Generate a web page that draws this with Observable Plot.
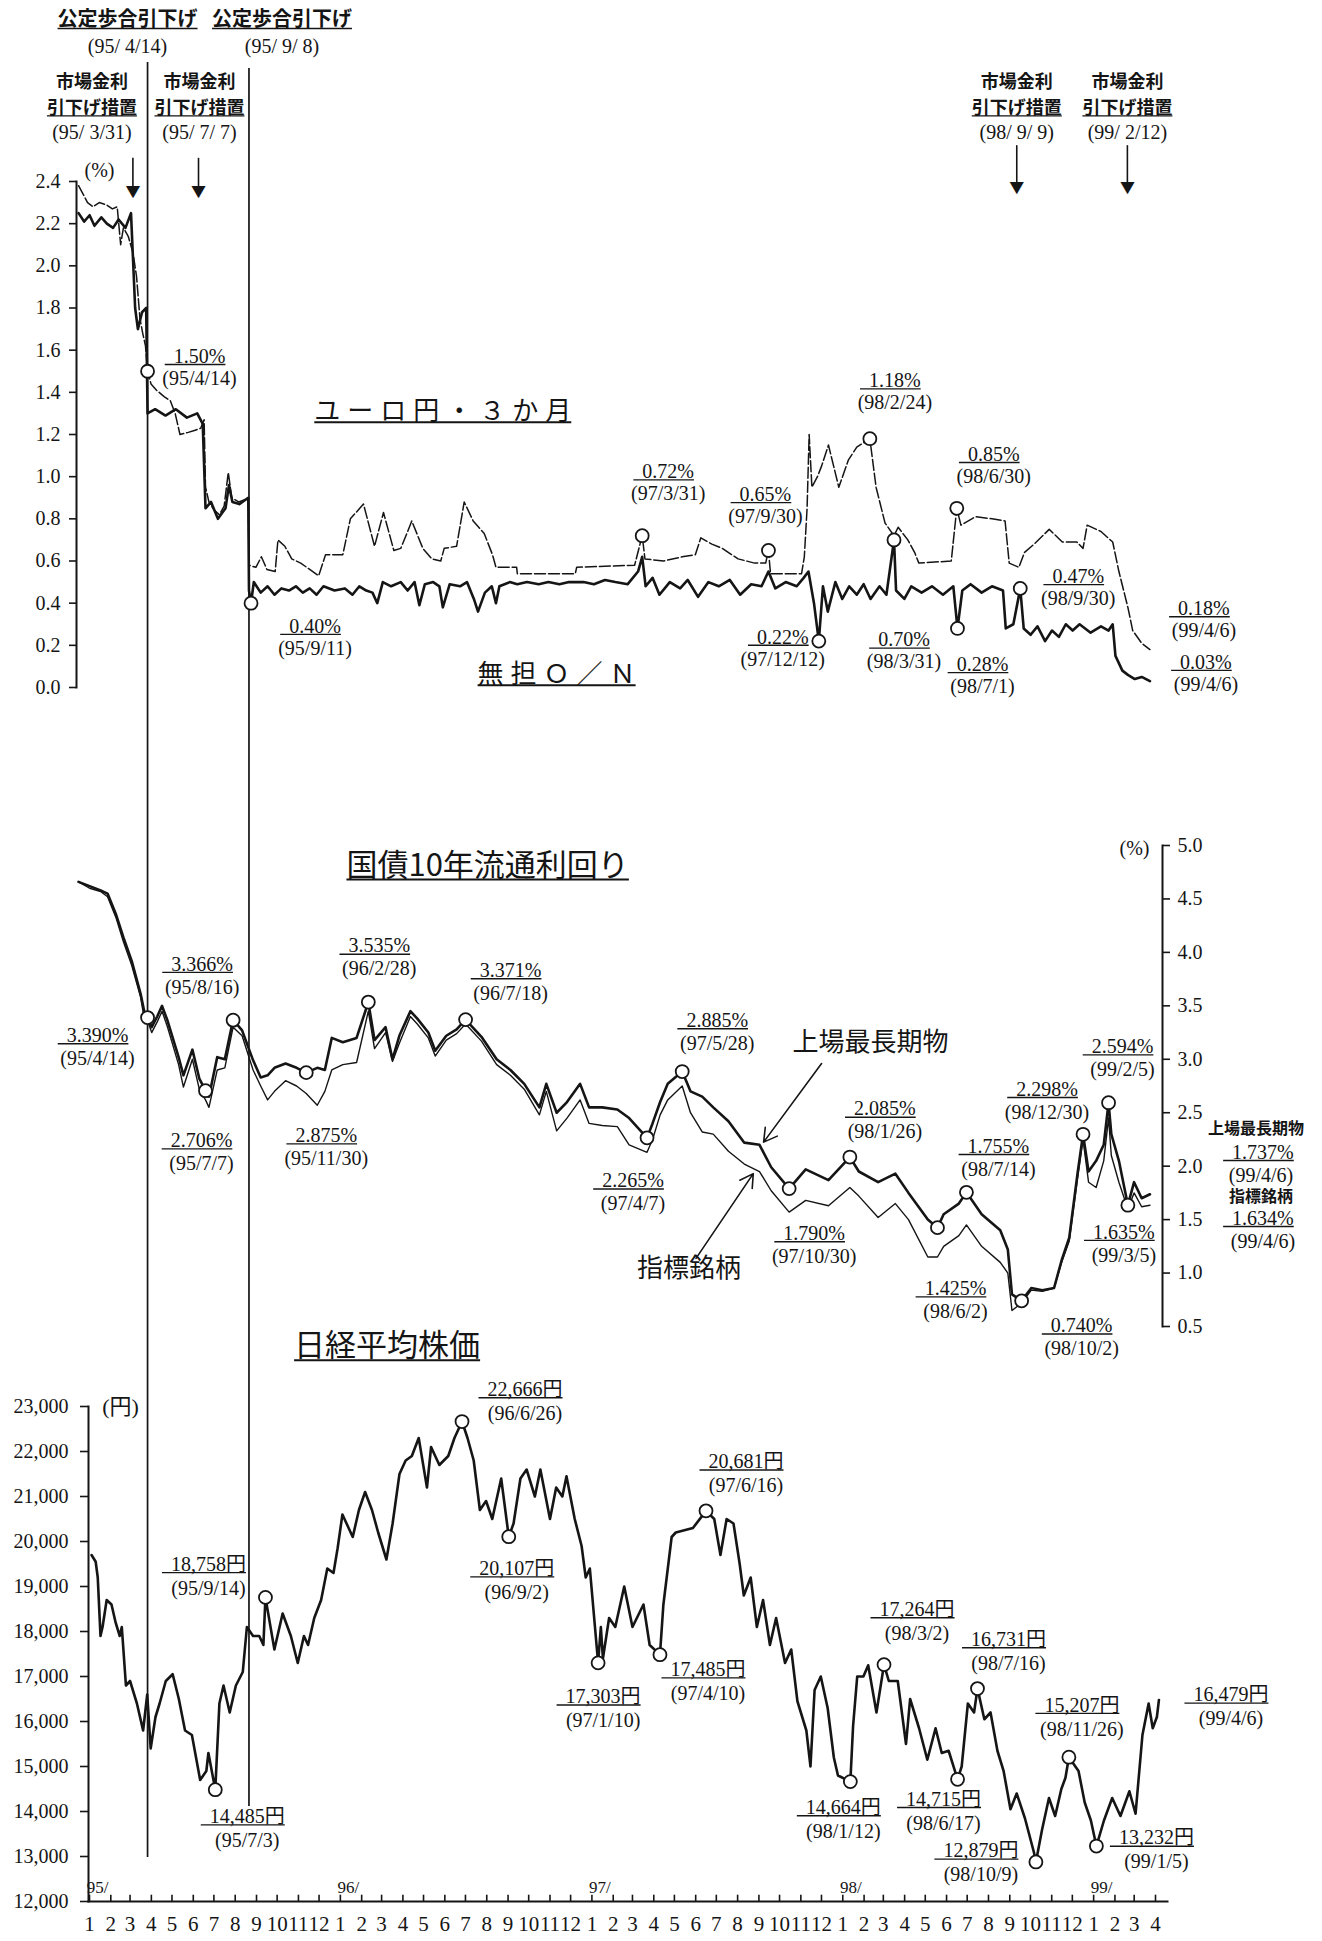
<!DOCTYPE html>
<html><head><meta charset="utf-8">
<script src="https://cdn.jsdelivr.net/npm/d3@7"></script>
<script src="https://cdn.jsdelivr.net/npm/@observablehq/plot@0.6"></script>
<style>
html,body{margin:0;padding:0;background:#fff;}
#chart{position:relative;width:1322px;height:1941px;overflow:hidden;background:#fff;}
</style></head><body><div id="chart"></div>
<script>
(function(){
// ---------------- DATA ----------------
const topTicks = [0.0,0.2,0.4,0.6,0.8,1.0,1.2,1.4,1.6,1.8,2.0,2.2,2.4];
const midTicks = [0.5,1.0,1.5,2.0,2.5,3.0,3.5,4.0,4.5,5.0];
const nikkeiTicks = [12000,13000,14000,15000,16000,17000,18000,19000,20000,21000,22000,23000];
const yearLabels = ["95/","96/","97/","98/","99/"];

// ユーロ円・3か月 (%)
const euroYen = [["1995-01-04",2.38],["1995-01-09",2.35],["1995-01-17",2.30],["1995-01-25",2.28],["1995-02-03",2.30],["1995-02-13",2.29],["1995-02-22",2.27],["1995-03-01",2.28],["1995-03-06",2.10],["1995-03-10",2.18],["1995-03-17",2.14],["1995-03-24",2.06],["1995-03-29",1.95],["1995-04-03",1.75],["1995-04-07",1.68],["1995-04-11",1.62],["1995-04-14",1.50],["1995-04-19",1.44],["1995-04-27",1.41],["1995-05-08",1.38],["1995-05-17",1.36],["1995-05-24",1.30],["1995-05-31",1.20],["1995-06-12",1.21],["1995-06-22",1.22],["1995-06-30",1.23],["1995-07-05",1.27],["1995-07-07",0.95],["1995-07-12",0.88],["1995-07-20",0.84],["1995-07-27",0.82],["1995-08-03",0.86],["1995-08-09",1.02],["1995-08-14",0.90],["1995-08-24",0.88],["1995-09-01",0.89],["1995-09-07",0.89],["1995-09-08",0.58],["1995-09-18",0.57],["1995-09-26",0.62],["1995-10-04",0.56],["1995-10-16",0.55],["1995-10-20",0.70],["1995-10-30",0.67],["1995-11-09",0.61],["1995-11-22",0.59],["1995-12-05",0.56],["1995-12-18",0.53],["1995-12-28",0.63],["1996-01-22",0.63],["1996-02-02",0.80],["1996-02-21",0.87],["1996-03-08",0.67],["1996-03-21",0.83],["1996-04-05",0.65],["1996-04-15",0.66],["1996-04-25",0.74],["1996-05-01",0.79],["1996-05-17",0.66],["1996-05-30",0.61],["1996-06-12",0.60],["1996-06-17",0.66],["1996-07-05",0.67],["1996-07-16",0.88],["1996-07-29",0.79],["1996-08-14",0.73],["1996-08-26",0.63],["1996-08-31",0.57],["1996-09-30",0.57],["1996-10-01",0.54],["1996-12-24",0.54],["1996-12-26",0.57],["1997-03-20",0.58],["1997-03-31",0.72],["1997-04-04",0.61],["1997-05-01",0.60],["1997-05-28",0.62],["1997-06-16",0.63],["1997-06-24",0.71],["1997-07-10",0.68],["1997-07-25",0.66],["1997-08-17",0.61],["1997-09-10",0.59],["1997-09-26",0.59],["1997-09-30",0.65],["1997-10-03",0.54],["1997-11-17",0.54],["1997-11-21",0.62],["1997-11-25",0.85],["1997-11-28",1.20],["1997-12-02",0.95],["1997-12-10",1.00],["1997-12-16",1.05],["1997-12-26",1.15],["1998-01-10",0.95],["1998-01-24",1.08],["1998-02-05",1.14],["1998-02-24",1.18],["1998-03-05",0.95],["1998-03-18",0.78],["1998-03-31",0.72],["1998-04-06",0.76],["1998-04-20",0.70],["1998-04-30",0.64],["1998-05-06",0.59],["1998-06-22",0.60],["1998-06-30",0.85],["1998-07-06",0.77],["1998-07-27",0.81],["1998-08-20",0.80],["1998-09-08",0.79],["1998-09-14",0.59],["1998-09-28",0.57],["1998-10-06",0.64],["1998-10-20",0.68],["1998-11-11",0.75],["1998-11-30",0.69],["1998-12-21",0.69],["1998-12-30",0.66],["1999-01-05",0.77],["1999-01-25",0.74],["1999-02-11",0.69],["1999-02-20",0.55],["1999-03-05",0.38],["1999-03-12",0.27],["1999-03-25",0.21],["1999-04-06",0.18]];

// 無担O/N (%)
const overnight = [["1995-01-04",2.25],["1995-01-12",2.21],["1995-01-20",2.24],["1995-01-27",2.19],["1995-02-06",2.23],["1995-02-14",2.20],["1995-02-23",2.18],["1995-03-03",2.22],["1995-03-13",2.18],["1995-03-21",2.25],["1995-03-27",1.80],["1995-03-31",1.70],["1995-04-06",1.78],["1995-04-12",1.80],["1995-04-14",1.30],["1995-04-25",1.32],["1995-05-10",1.29],["1995-05-25",1.32],["1995-06-10",1.28],["1995-06-25",1.30],["1995-07-03",1.25],["1995-07-07",0.85],["1995-07-15",0.88],["1995-07-25",0.80],["1995-08-05",0.85],["1995-08-10",0.96],["1995-08-15",0.88],["1995-08-25",0.87],["1995-09-07",0.90],["1995-09-08",0.46],["1995-09-11",0.40],["1995-09-15",0.50],["1995-09-25",0.45],["1995-10-05",0.48],["1995-10-15",0.44],["1995-10-25",0.47],["1995-11-05",0.46],["1995-11-15",0.48],["1995-11-25",0.45],["1995-12-05",0.47],["1995-12-15",0.44],["1995-12-25",0.48],["1996-01-10",0.46],["1996-01-25",0.47],["1996-02-05",0.44],["1996-02-15",0.48],["1996-02-25",0.46],["1996-03-05",0.45],["1996-03-12",0.40],["1996-03-20",0.50],["1996-04-01",0.48],["1996-04-15",0.50],["1996-04-25",0.46],["1996-05-05",0.50],["1996-05-12",0.39],["1996-05-20",0.49],["1996-06-01",0.50],["1996-06-10",0.48],["1996-06-15",0.38],["1996-06-25",0.49],["1996-07-10",0.48],["1996-07-20",0.50],["1996-07-30",0.42],["1996-08-05",0.36],["1996-08-15",0.45],["1996-08-25",0.48],["1996-08-31",0.40],["1996-09-05",0.48],["1996-09-20",0.50],["1996-10-01",0.49],["1996-10-15",0.50],["1996-11-01",0.49],["1996-11-15",0.50],["1996-12-01",0.49],["1996-12-15",0.50],["1997-01-05",0.50],["1997-01-20",0.49],["1997-02-05",0.51],["1997-02-20",0.50],["1997-03-10",0.49],["1997-03-25",0.55],["1997-03-31",0.62],["1997-04-05",0.48],["1997-04-15",0.52],["1997-04-25",0.44],["1997-05-10",0.50],["1997-05-25",0.47],["1997-06-05",0.51],["1997-06-20",0.43],["1997-07-05",0.50],["1997-07-20",0.48],["1997-08-05",0.51],["1997-08-20",0.44],["1997-09-05",0.49],["1997-09-20",0.48],["1997-09-30",0.55],["1997-10-10",0.47],["1997-10-25",0.50],["1997-11-10",0.48],["1997-11-20",0.52],["1997-11-27",0.55],["1997-12-05",0.40],["1997-12-12",0.22],["1997-12-18",0.48],["1997-12-25",0.36],["1998-01-05",0.50],["1998-01-15",0.42],["1998-01-25",0.48],["1998-02-05",0.44],["1998-02-15",0.49],["1998-02-25",0.42],["1998-03-10",0.48],["1998-03-20",0.44],["1998-03-31",0.70],["1998-04-03",0.46],["1998-04-15",0.42],["1998-04-25",0.48],["1998-05-10",0.45],["1998-05-25",0.48],["1998-06-10",0.44],["1998-06-25",0.48],["1998-07-01",0.28],["1998-07-08",0.46],["1998-07-20",0.49],["1998-08-05",0.45],["1998-08-20",0.48],["1998-09-05",0.46],["1998-09-09",0.28],["1998-09-20",0.30],["1998-09-30",0.47],["1998-10-05",0.28],["1998-10-15",0.25],["1998-10-25",0.29],["1998-11-05",0.22],["1998-11-15",0.27],["1998-11-25",0.24],["1998-12-05",0.30],["1998-12-15",0.27],["1998-12-25",0.30],["1999-01-10",0.26],["1999-01-25",0.29],["1999-02-05",0.27],["1999-02-11",0.30],["1999-02-15",0.15],["1999-02-25",0.08],["1999-03-05",0.06],["1999-03-15",0.04],["1999-03-25",0.05],["1999-04-06",0.03]];

// 国債10年 上場最長期物 (%)
const jgbLongest = [["1995-01-04",4.66],["1995-01-20",4.62],["1995-02-05",4.58],["1995-02-15",4.55],["1995-02-27",4.36],["1995-03-10",4.14],["1995-03-22",3.92],["1995-04-04",3.61],["1995-04-10",3.42],["1995-04-14",3.39],["1995-04-20",3.30],["1995-04-28",3.40],["1995-05-05",3.50],["1995-05-13",3.36],["1995-05-29",3.02],["1995-06-05",2.85],["1995-06-18",3.09],["1995-06-28",2.82],["1995-07-07",2.71],["1995-07-12",2.65],["1995-07-24",3.02],["1995-08-04",3.00],["1995-08-16",3.37],["1995-08-29",3.27],["1995-09-14",2.99],["1995-09-25",2.83],["1995-10-05",2.85],["1995-10-15",2.92],["1995-10-31",2.96],["1995-11-16",2.92],["1995-11-30",2.875],["1995-12-16",2.92],["1995-12-27",2.90],["1996-01-06",3.20],["1996-01-22",3.16],["1996-02-11",3.20],["1996-02-28",3.535],["1996-03-08",3.18],["1996-03-24",3.30],["1996-04-03",3.00],["1996-04-13",3.22],["1996-04-29",3.45],["1996-05-09",3.38],["1996-05-25",3.25],["1996-06-04",3.08],["1996-06-20",3.22],["1996-07-05",3.28],["1996-07-18",3.371],["1996-08-10",3.21],["1996-09-01",3.00],["1996-09-21",2.90],["1996-10-11",2.77],["1996-11-02",2.55],["1996-11-12",2.77],["1996-11-27",2.50],["1996-12-12",2.60],["1996-12-31",2.77],["1997-01-13",2.55],["1997-02-01",2.55],["1997-02-23",2.53],["1997-03-12",2.45],["1997-04-07",2.265],["1997-04-15",2.40],["1997-04-26",2.60],["1997-05-07",2.77],["1997-05-28",2.885],["1997-06-09",2.70],["1997-06-26",2.65],["1997-07-12",2.55],["1997-08-03",2.42],["1997-08-26",2.22],["1997-09-17",2.20],["1997-10-04",1.99],["1997-10-30",1.790],["1997-11-23",1.97],["1997-12-26",1.87],["1998-01-26",2.085],["1998-02-08",1.95],["1998-03-08",1.85],["1998-04-02",1.93],["1998-04-21",1.75],["1998-05-19",1.50],["1998-06-02",1.425],["1998-06-11",1.55],["1998-07-03",1.65],["1998-07-14",1.755],["1998-08-05",1.55],["1998-09-01",1.40],["1998-09-12",1.22],["1998-09-18",0.80],["1998-10-02",0.740],["1998-10-16",0.86],["1998-11-01",0.84],["1998-11-18",0.86],["1998-11-29",1.12],["1998-12-10",1.33],["1998-12-22",1.93],["1998-12-30",2.298],["1999-01-07",1.95],["1999-01-18",2.05],["1999-01-29",2.20],["1999-02-05",2.594],["1999-02-09",2.30],["1999-02-20",2.05],["1999-03-05",1.635],["1999-03-14",1.85],["1999-03-25",1.70],["1999-04-06",1.737]];

// 国債10年 指標銘柄 (%)
const jgbBenchmark = [["1995-01-04",4.66],["1995-01-20",4.60],["1995-02-05",4.57],["1995-02-15",4.52],["1995-02-27",4.33],["1995-03-10",4.10],["1995-03-22",3.88],["1995-04-04",3.58],["1995-04-10",3.35],["1995-04-14",3.36],["1995-04-20",3.25],["1995-04-28",3.35],["1995-05-05",3.45],["1995-05-13",3.30],["1995-05-29",2.95],["1995-06-05",2.74],["1995-06-18",3.00],["1995-06-28",2.72],["1995-07-07",2.62],["1995-07-12",2.55],["1995-07-24",2.90],["1995-08-04",2.92],["1995-08-16",3.30],["1995-08-29",3.22],["1995-09-14",2.90],["1995-09-25",2.75],["1995-10-05",2.62],["1995-10-15",2.70],["1995-10-31",2.80],["1995-11-16",2.75],["1995-11-30",2.68],["1995-12-16",2.57],["1995-12-27",2.70],["1996-01-06",2.90],["1996-01-22",2.95],["1996-02-11",2.97],["1996-02-28",3.45],["1996-03-08",3.10],["1996-03-24",3.25],["1996-04-03",2.98],["1996-04-13",3.15],["1996-04-29",3.40],["1996-05-09",3.33],["1996-05-25",3.20],["1996-06-04",3.03],["1996-06-20",3.18],["1996-07-05",3.24],["1996-07-18",3.33],["1996-08-10",3.17],["1996-09-01",2.95],["1996-09-21",2.85],["1996-10-11",2.72],["1996-11-02",2.48],["1996-11-12",2.70],["1996-11-27",2.33],["1996-12-12",2.45],["1996-12-31",2.62],["1997-01-13",2.40],["1997-02-01",2.38],["1997-02-23",2.37],["1997-03-12",2.20],["1997-04-07",2.13],["1997-04-15",2.25],["1997-04-26",2.48],["1997-05-07",2.62],["1997-05-28",2.75],["1997-06-09",2.50],["1997-06-26",2.32],["1997-07-12",2.30],["1997-08-03",2.14],["1997-08-26",2.02],["1997-09-17",1.95],["1997-10-04",1.77],["1997-10-30",1.57],["1997-11-23",1.68],["1997-12-26",1.63],["1998-01-26",1.80],["1998-02-08",1.72],["1998-03-08",1.52],["1998-04-02",1.65],["1998-04-21",1.50],["1998-05-19",1.15],["1998-06-02",1.15],["1998-06-11",1.25],["1998-07-03",1.35],["1998-07-14",1.45],["1998-08-05",1.25],["1998-09-01",1.10],["1998-09-12",1.00],["1998-09-18",0.65],["1998-10-02",0.72],["1998-10-16",0.84],["1998-11-01",0.83],["1998-11-18",0.86],["1998-11-29",1.10],["1998-12-10",1.30],["1998-12-22",1.88],["1998-12-30",2.25],["1999-01-07",1.85],["1999-01-18",1.80],["1999-01-29",2.05],["1999-02-05",2.45],["1999-02-09",2.10],["1999-02-20",1.85],["1999-03-05",1.60],["1999-03-14",1.75],["1999-03-25",1.62],["1999-04-06",1.634]];

// 日経平均株価 (円)
const nikkei = [["1995-01-04",19700],["1995-01-10",19550],["1995-01-13",19200],["1995-01-17",17900],["1995-01-20",18100],["1995-01-26",18700],["1995-02-02",18600],["1995-02-08",18200],["1995-02-14",17900],["1995-02-17",18100],["1995-02-23",16800],["1995-03-01",16900],["1995-03-11",16400],["1995-03-20",15800],["1995-03-26",16600],["1995-03-31",15400],["1995-04-07",16100],["1995-04-13",16400],["1995-04-22",16900],["1995-05-02",17050],["1995-05-11",16500],["1995-05-20",15800],["1995-05-30",15700],["1995-06-11",14700],["1995-06-20",14900],["1995-06-23",15300],["1995-07-03",14485],["1995-07-09",16400],["1995-07-15",16800],["1995-07-24",16200],["1995-08-02",16800],["1995-08-12",17100],["1995-08-18",18100],["1995-08-27",17900],["1995-09-05",17900],["1995-09-11",17700],["1995-09-14",18758],["1995-09-27",17600],["1995-10-09",18400],["1995-10-21",17900],["1995-10-31",17300],["1995-11-09",17900],["1995-11-15",17700],["1995-11-24",18300],["1995-12-04",18700],["1995-12-13",19400],["1995-12-22",19300],["1995-12-28",19850],["1996-01-04",20600],["1996-01-13",20300],["1996-01-19",20100],["1996-01-28",20700],["1996-02-06",21100],["1996-02-16",20700],["1996-02-25",20200],["1996-03-08",19600],["1996-03-17",20400],["1996-03-27",21500],["1996-04-05",21800],["1996-04-14",21900],["1996-04-24",22300],["1996-05-06",21200],["1996-05-12",22100],["1996-05-24",21700],["1996-06-06",21900],["1996-06-15",22300],["1996-06-26",22666],["1996-07-04",22300],["1996-07-13",21800],["1996-07-22",20700],["1996-07-31",20900],["1996-08-09",20500],["1996-08-22",21400],["1996-09-02",20107],["1996-09-09",20400],["1996-09-19",21400],["1996-09-28",21600],["1996-10-10",21000],["1996-10-18",21600],["1996-11-01",20500],["1996-11-10",21200],["1996-11-19",21000],["1996-11-25",21450],["1996-12-07",20500],["1996-12-17",19900],["1996-12-23",19200],["1996-12-29",19400],["1997-01-10",17303],["1997-01-14",18100],["1997-01-17",17400],["1997-01-26",18300],["1997-02-04",18100],["1997-02-17",19000],["1997-03-01",18100],["1997-03-17",18600],["1997-03-26",17700],["1997-04-10",17485],["1997-04-15",18600],["1997-04-27",20100],["1997-05-03",20200],["1997-05-28",20300],["1997-06-16",20681],["1997-06-28",20500],["1997-07-07",19700],["1997-07-16",20500],["1997-07-26",20400],["1997-08-04",19500],["1997-08-10",18800],["1997-08-20",19200],["1997-08-29",18100],["1997-09-07",18700],["1997-09-17",17700],["1997-09-26",18300],["1997-10-09",17300],["1997-10-18",17600],["1997-10-27",16450],["1997-11-09",15800],["1997-11-15",15000],["1997-11-21",16700],["1997-11-30",17000],["1997-12-10",16300],["1997-12-19",15200],["1997-12-25",14800],["1998-01-12",14664],["1998-01-16",15900],["1998-01-22",17000],["1998-01-31",17000],["1998-02-07",17250],["1998-02-19",16200],["1998-03-02",17264],["1998-03-09",16900],["1998-03-22",16900],["1998-04-03",15500],["1998-04-09",16500],["1998-04-22",15850],["1998-05-04",15150],["1998-05-16",15850],["1998-05-25",15300],["1998-06-04",15350],["1998-06-17",14715],["1998-06-23",15000],["1998-07-02",16400],["1998-07-11",16200],["1998-07-16",16731],["1998-07-26",16050],["1998-08-04",16200],["1998-08-14",15350],["1998-08-23",14900],["1998-09-02",14050],["1998-09-11",14400],["1998-09-23",13850],["1998-10-06",13100],["1998-10-09",12879],["1998-10-18",13600],["1998-10-28",14300],["1998-11-06",13900],["1998-11-15",14500],["1998-11-21",14750],["1998-11-26",15207],["1998-12-10",14900],["1998-12-19",14200],["1998-12-28",13800],["1999-01-05",13232],["1999-01-16",13800],["1999-01-28",14300],["1999-02-09",13900],["1999-02-22",14450],["1999-03-03",13950],["1999-03-13",15700],["1999-03-22",16400],["1999-03-28",15850],["1999-04-03",16100],["1999-04-06",16479]];

// annotated points
const topNotes = [
  {date:"1995-04-14", value:1.50, label:"1.50%", sub:"(95/4/14)"},
  {date:"1995-09-11", value:0.40, label:"0.40%", sub:"(95/9/11)"},
  {date:"1997-03-31", value:0.72, label:"0.72%", sub:"(97/3/31)"},
  {date:"1997-09-30", value:0.65, label:"0.65%", sub:"(97/9/30)"},
  {date:"1997-12-12", value:0.22, label:"0.22%", sub:"(97/12/12)"},
  {date:"1998-02-24", value:1.18, label:"1.18%", sub:"(98/2/24)"},
  {date:"1998-03-31", value:0.70, label:"0.70%", sub:"(98/3/31)"},
  {date:"1998-06-30", value:0.85, label:"0.85%", sub:"(98/6/30)"},
  {date:"1998-07-01", value:0.28, label:"0.28%", sub:"(98/7/1)"},
  {date:"1998-09-30", value:0.47, label:"0.47%", sub:"(98/9/30)"}
];
const topEndNotes = [
  {date:"1999-04-06", value:0.18, label:"0.18%", sub:"(99/4/6)"},
  {date:"1999-04-06", value:0.03, label:"0.03%", sub:"(99/4/6)"}
];
const midNotes = [
  {date:"1995-04-14", value:3.390, label:"3.390%", sub:"(95/4/14)"},
  {date:"1995-07-07", value:2.706, label:"2.706%", sub:"(95/7/7)"},
  {date:"1995-08-16", value:3.366, label:"3.366%", sub:"(95/8/16)"},
  {date:"1995-11-30", value:2.875, label:"2.875%", sub:"(95/11/30)"},
  {date:"1996-02-28", value:3.535, label:"3.535%", sub:"(96/2/28)"},
  {date:"1996-07-18", value:3.371, label:"3.371%", sub:"(96/7/18)"},
  {date:"1997-04-07", value:2.265, label:"2.265%", sub:"(97/4/7)"},
  {date:"1997-05-28", value:2.885, label:"2.885%", sub:"(97/5/28)"},
  {date:"1997-10-30", value:1.790, label:"1.790%", sub:"(97/10/30)"},
  {date:"1998-01-26", value:2.085, label:"2.085%", sub:"(98/1/26)"},
  {date:"1998-06-02", value:1.425, label:"1.425%", sub:"(98/6/2)"},
  {date:"1998-07-14", value:1.755, label:"1.755%", sub:"(98/7/14)"},
  {date:"1998-10-02", value:0.740, label:"0.740%", sub:"(98/10/2)"},
  {date:"1998-12-30", value:2.298, label:"2.298%", sub:"(98/12/30)"},
  {date:"1999-02-05", value:2.594, label:"2.594%", sub:"(99/2/5)"},
  {date:"1999-03-05", value:1.635, label:"1.635%", sub:"(99/3/5)"}
];
const nikkeiNotes = [
  {date:"1995-07-03", value:14485, label:"14,485円", sub:"(95/7/3)"},
  {date:"1995-09-14", value:18758, label:"18,758円", sub:"(95/9/14)"},
  {date:"1996-06-26", value:22666, label:"22,666円", sub:"(96/6/26)"},
  {date:"1996-09-02", value:20107, label:"20,107円", sub:"(96/9/2)"},
  {date:"1997-01-10", value:17303, label:"17,303円", sub:"(97/1/10)"},
  {date:"1997-04-10", value:17485, label:"17,485円", sub:"(97/4/10)"},
  {date:"1997-06-16", value:20681, label:"20,681円", sub:"(97/6/16)"},
  {date:"1998-01-12", value:14664, label:"14,664円", sub:"(98/1/12)"},
  {date:"1998-03-02", value:17264, label:"17,264円", sub:"(98/3/2)"},
  {date:"1998-06-17", value:14715, label:"14,715円", sub:"(98/6/17)"},
  {date:"1998-07-16", value:16731, label:"16,731円", sub:"(98/7/16)"},
  {date:"1998-10-09", value:12879, label:"12,879円", sub:"(98/10/9)"},
  {date:"1998-11-26", value:15207, label:"15,207円", sub:"(98/11/26)"},
  {date:"1999-01-05", value:13232, label:"13,232円", sub:"(99/1/5)"}
];
const nikkeiEndNotes = [{date:"1999-04-06", value:16479, label:"16,479円", sub:"(99/4/6)"}];

// policy events
const discountCuts = [{date:"1995-04-14", label:"(95/ 4/14)"}, {date:"1995-09-08", label:"(95/ 9/ 8)"}];
const marketMeasures = [
  {date:"1995-03-31", label:"(95/ 3/31)"}, {date:"1995-07-07", label:"(95/ 7/ 7)"},
  {date:"1998-09-09", label:"(98/ 9/ 9)"}, {date:"1999-02-12", label:"(99/ 2/12)"}
];

// ---------------- LAYOUT (label offsets, px) ----------------
const topOffsets = [[52,-15],[64,23],[26,-64],[-3,-56],[-36,-4],[25,-58],[10,100],[37,-54],[25,36],[58,-12]];
const topEndOffsets = [[54,-41],[56,-19]];
const midOffsets = [[-50,18],[-4,50],[-31,-56],[20,63],[11,-56],[45,-49],[-14,43],[35,-51],[25,45],[35,-48],[18,61],[32,-46],[60,25],[-36,-45],[14,-56],[-4,27]];
const nikkeiOffsets = [[32,27],[-57,-33],[63,-32],[8,32],[5,34],[48,15],[40,-49],[-7,26],[33,-55],[-14,20],[31,-49],[-55,-11],[13,-52],[60,-8]];
const nikkeiEndOffsets = [[72,-5]];
const discountDx = [-20, 33];
const measureTextDx = [-46, -6, 11, 14];
const measureArrowDx = [-5, -7, 11, 14];

// ---------------- BUILD ----------------
const parse = d3.utcParse("%Y-%m-%d");
const W = 1322, H = 1941;
const X0 = new Date(Date.UTC(1995,0,1)), X1 = new Date(Date.UTC(1999,3,1));
const SERIF = "'Liberation Serif','Noto Sans CJK JP',serif";
const GOTHIC = "'Noto Sans CJK JP','Liberation Sans',sans-serif";
const INK = "#151515";

const rows = a => a.map(([d, v]) => ({date: parse(d), value: v}));
const withDate = a => a.map(n => ({...n, date: parse(n.date)}));

const euro = rows(euroYen), on = rows(overnight), jA = rows(jgbLongest), jB = rows(jgbBenchmark), nk = rows(nikkei);
const tN = withDate(topNotes), tE = withDate(topEndNotes), mN = withDate(midNotes), nN = withDate(nikkeiNotes), nE = withDate(nikkeiEndNotes);
const cuts = withDate(discountCuts), meas = withDate(marketMeasures);

function common(o) {
  return Object.assign({
    width: W, height: H,
    style: {position:"absolute", left:"0px", top:"0px", background:"transparent", overflow:"visible", fontFamily: SERIF, fontSize:"20px", color: INK}
  }, o);
}
function annotate(notes, offsets, gap) {
  return notes.flatMap((n, i) => {
    const [dx, dy] = offsets[i];
    return [
      Plot.text([n], {x:"date", y:"value", text:"label", dx, dy, fontSize:20, fontFamily:SERIF, fill:INK}),
      Plot.text([n], {x:"date", y:"value", text:"sub", dx, dy: dy + gap, fontSize:20, fontFamily:SERIF, fill:INK})
    ];
  });
}
const circles = notes => Plot.dot(notes, {x:"date", y:"value", r:6.5, fill:"white", stroke:INK, strokeWidth:1.8});

// overlay: policy rate cut vertical lines
const evPlot = Plot.plot(common({
  marginTop: 62, marginBottom: H - 1857, marginLeft: 76, marginRight: W - 1146,
  x: {type:"utc", domain:[X0, X1], range:[76, 1146], axis:null},
  marks: [
    Plot.ruleX([cuts[0]], {x:"date", stroke:INK, strokeWidth:1.7}),
    Plot.ruleX([cuts[1]], {x:"date", stroke:INK, strokeWidth:1.7, insetTop:6, insetBottom:51})
  ]
}));

// top panel
const headerMarks = [];
cuts.forEach((c, i) => {
  headerMarks.push(Plot.text([c], {x:"date", frameAnchor:"top", lineAnchor:"middle", dy:-162, dx:discountDx[i], text:() => "公定歩合引下げ", fontFamily:GOTHIC, fontSize:20, fontWeight:"bold"}));
  headerMarks.push(Plot.text([c], {x:"date", frameAnchor:"top", lineAnchor:"middle", dy:-135, dx:discountDx[i], text:"label", fontSize:20}));
});
meas.forEach((m, i) => {
  const early = i < 2;
  headerMarks.push(Plot.text([m], {x:"date", frameAnchor:"top", lineAnchor:"middle", dy:-89, dx:measureTextDx[i], text:() => "市場金利\n引下げ措置", lineHeight:1.45, fontFamily:GOTHIC, fontSize:18, fontWeight:"bold"}));
  headerMarks.push(Plot.text([m], {x:"date", frameAnchor:"top", lineAnchor:"middle", dy:-49, dx:measureTextDx[i], text:"label", fontSize:20}));
  headerMarks.push(Plot.ruleX([m], {x:"date", y1: early ? 2.51 : 2.57, y2: early ? 2.35 : 2.37, dx:measureArrowDx[i], stroke:INK, strokeWidth:1.6}));
  headerMarks.push(Plot.text([m], {x:"date", y: early ? 2.32 : 2.34, dy:-6, dx:measureArrowDx[i], text:() => "▼", fontFamily:GOTHIC, fontSize:15}));
});

const topPlot = Plot.plot(common({
  marginTop: 181, marginBottom: H - 687, marginLeft: 76, marginRight: W - 1146,
  x: {type:"utc", domain:[X0, X1], range:[76, 1146], axis:null},
  y: {domain:[0, 2.4]},
  marks: [
    Plot.frame({anchor:"left", stroke:INK, strokeWidth:2}),
    Plot.axisY({anchor:"left", ticks: topTicks, tickFormat: d => d.toFixed(1), tickSize:7, tickPadding:9, label:null, fontSize:20, strokeWidth:1.6}),
    Plot.text(["(%)"], {frameAnchor:"top-left", textAnchor:"middle", lineAnchor:"middle", dx:23, dy:-11, fontSize:20}),
    Plot.line(euro, {x:"date", y:"value", stroke:INK, strokeWidth:1.5, strokeDasharray:"11,3"}),
    Plot.line(on, {x:"date", y:"value", stroke:INK, strokeWidth:2.6}),
    Plot.text([{date: parse("1996-06-20"), value:1.31}], {x:"date", y:"value", text:() => "ユーロ円・３か月", fontFamily:GOTHIC, fontSize:26}),
    Plot.text([{date: parse("1996-12-02"), value:0.062}], {x:"date", y:"value", text:() => "無担Ｏ／Ｎ", fontFamily:GOTHIC, fontSize:26}),
    circles(tN),
    ...annotate(tN, topOffsets, 22),
    ...annotate(tE, topEndOffsets, 22),
    ...headerMarks
  ]
}));

// middle panel
const endA = jA[jA.length - 1], endB = jB[jB.length - 1];
const midArrows = [
  {x1: parse("1997-12-16"), y1: 2.96, x2: parse("1997-09-23"), y2: 2.225},
  {x1: parse("1997-06-17"), y1: 1.137, x2: parse("1997-09-08"), y2: 1.93}
];
const midPlot = Plot.plot(common({
  marginTop: 845, marginBottom: H - 1326, marginLeft: 76, marginRight: W - 1162,
  x: {type:"utc", domain:[X0, X1], range:[76, 1146], axis:null},
  y: {domain:[0.5, 5.0]},
  marks: [
    Plot.frame({anchor:"right", stroke:INK, strokeWidth:2}),
    Plot.axisY({anchor:"right", ticks: midTicks, tickFormat: d => d.toFixed(1), tickSize:7, tickPadding:8, label:null, fontSize:20, strokeWidth:1.6}),
    Plot.text(["(%)"], {frameAnchor:"top-right", textAnchor:"middle", lineAnchor:"middle", dx:-28, dy:3, fontSize:20}),
    Plot.text([{date: parse("1996-08-19"), value:4.81}], {x:"date", y:"value", text:() => "国債10年流通利回り", fontFamily:GOTHIC, fontSize:31}),
    Plot.line(jB, {x:"date", y:"value", stroke:INK, strokeWidth:1.4}),
    Plot.line(jA, {x:"date", y:"value", stroke:INK, strokeWidth:2.6}),
    Plot.arrow(midArrows, {x1:"x1", y1:"y1", x2:"x2", y2:"y2", stroke:INK, strokeWidth:1.6, headLength:14}),
    Plot.text([{date: parse("1998-02-25"), value:3.157}], {x:"date", y:"value", text:() => "上場最長期物", fontFamily:GOTHIC, fontSize:26}),
    Plot.text([{date: parse("1997-06-07"), value:1.043}], {x:"date", y:"value", text:() => "指標銘柄", fontFamily:GOTHIC, fontSize:26}),
    circles(mN),
    ...annotate(mN, midOffsets, 23),
    Plot.text([endA], {x:"date", y:"value", dx:106, dy:-65, text:() => "上場最長期物", fontFamily:GOTHIC, fontSize:16, fontWeight:"bold"}),
    Plot.text([endA], {x:"date", y:"value", dx:113, dy:-42, text:d => d.value.toFixed(3) + "%", fontSize:20}),
    Plot.text([endA], {x:"date", y:"value", dx:111, dy:-19, text:() => "(99/4/6)", fontSize:20}),
    Plot.text([endB], {x:"date", y:"value", dx:111, dy:-8, text:() => "指標銘柄", fontFamily:GOTHIC, fontSize:16, fontWeight:"bold"}),
    Plot.text([endB], {x:"date", y:"value", dx:113, dy:13, text:d => d.value.toFixed(3) + "%", fontSize:20}),
    Plot.text([endB], {x:"date", y:"value", dx:113, dy:36, text:() => "(99/4/6)", fontSize:20})
  ]
}));

// bottom panel
const monthTicks = d3.utcMonths(X0, new Date(Date.UTC(1999,3,2)));
const yearTicks = monthTicks.filter(d => d.getUTCMonth() === 0);
const botPlot = Plot.plot(common({
  marginTop: 1406, marginBottom: H - 1901, marginLeft: 88, marginRight: W - 1167,
  x: {type:"utc", domain:[X0, X1], range:[89, 1155]},
  y: {domain:[12000, 23000]},
  marks: [
    Plot.frame({anchor:"left", stroke:INK, strokeWidth:2}),
    Plot.frame({anchor:"bottom", stroke:INK, strokeWidth:2}),
    Plot.axisY({anchor:"left", ticks: nikkeiTicks, tickFormat: d3.format(","), tickSize:8, tickPadding:12, label:null, fontSize:20, strokeWidth:1.6}),
    Plot.axisX({anchor:"bottom", ticks: monthTicks, tickFormat: d => String(d.getUTCMonth() + 1), tickSize:0, tickPadding:15, label:null, fontSize:21}),
    Plot.ruleX(monthTicks, {x: d => d, y1:12000, y2:12140, stroke:INK, strokeWidth:1.6}),
    Plot.text(yearTicks, {x: d => d, y:12000, dx:8, dy:-14, text:(d, i) => yearLabels[i], fontSize:17}),
    Plot.text(["(円)"], {frameAnchor:"top-left", textAnchor:"middle", lineAnchor:"middle", dx:32, dy:0, fontSize:22}),
    Plot.text([{date: parse("1996-03-09"), value:24333}], {x:"date", y:"value", text:() => "日経平均株価", fontFamily:GOTHIC, fontSize:31}),
    Plot.line(nk, {x:"date", y:"value", stroke:INK, strokeWidth:2.6}),
    circles(nN),
    ...annotate(nN, nikkeiOffsets, 24),
    ...annotate(nE, nikkeiEndOffsets, 24)
  ]
}));

const root = document.getElementById("chart");
[evPlot, topPlot, midPlot, botPlot].forEach(s => root.appendChild(s));

// underline decoration (drawn under rendered text, measured from the DOM)
const TITLES = new Set(["公定歩合引下げ","引下げ措置","ユーロ円・３か月","無担Ｏ／Ｎ","国債10年流通利回り","日経平均株価"]);
const SPACED = new Set(["ユーロ円・３か月","無担Ｏ／Ｎ"]);
const NS = "http://www.w3.org/2000/svg";
root.querySelectorAll("text").forEach(t => {
  const s = t.textContent.trim();
  if (SPACED.has(s)) t.setAttribute("letter-spacing", "7");
});
root.querySelectorAll("text, tspan").forEach(t => {
  const s = t.textContent.trim();
  const isValue = /^[\d.,]+(%|円)$/.test(s);
  const isTitle = TITLES.has(s);
  if (!isValue && !isTitle) return;
  if (t.tagName === "text" && t.querySelector("tspan")) return;
  const host = t.tagName === "tspan" ? t.closest("text") : t;
  const b = t.getBBox();
  const fs = parseFloat(getComputedStyle(host).fontSize) || 20;
  const ext = isValue ? 9 : 0;
  const spacedTrim = SPACED.has(s) ? 7 : 0;
  const y = b.y + b.height - (isValue ? 0.11 : 0.17) * fs;
  const ln = document.createElementNS(NS, "line");
  ln.setAttribute("x1", b.x - ext);
  ln.setAttribute("x2", b.x + b.width - spacedTrim);
  ln.setAttribute("y1", y);
  ln.setAttribute("y2", y);
  ln.setAttribute("stroke", INK);
  ln.setAttribute("stroke-width", isTitle && fs > 24 ? 2 : 1.4);
  const tr = host.getAttribute("transform");
  if (tr) ln.setAttribute("transform", tr);
  host.parentNode.appendChild(ln);
});
})();
</script></body></html>
